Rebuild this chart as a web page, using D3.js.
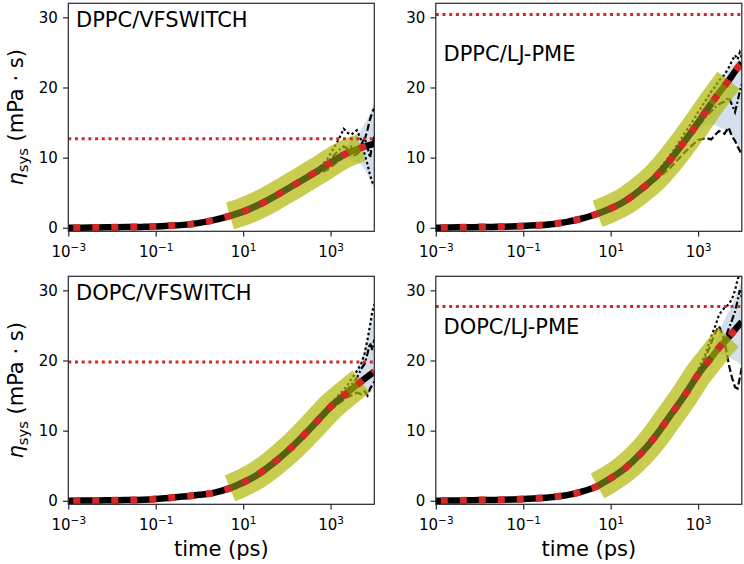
<!DOCTYPE html>
<html>
<head>
<meta charset="utf-8">
<script src="https://d3js.org/d3.v7.min.js"></script>
<style>
  body { margin: 0; background: #fff; }
  svg { display: block; font-family: "DejaVu Sans", sans-serif; }
  .spine { fill: none; stroke: #262626; stroke-width: 1.2; }
  .axis .tick line { stroke: #262626; stroke-width: 1.2; }
  .axis .tick text { fill: #000; font-size: 15px; font-family: "DejaVu Sans", sans-serif; }
  .panel-title, .axis-label { font-size: 21px; fill: #000; }
</style>
</head>
<body>
<svg id="fig" width="744" height="564"></svg>
<script>
// panel names and plateau (red dotted horizontal) values
var panelTitles = ["DPPC/VFSWITCH", "DPPC/LJ-PME", "DOPC/VFSWITCH", "DOPC/LJ-PME"];
var plateaus = [12.7, 30.4, 19.8, 27.7];

// running integral, averaged over replicas (ps -> mPa s)
var times = [0.001, 0.002, 0.005, 0.01, 0.02, 0.05, 0.1, 0.2, 0.5, 1, 2, 5, 10, 20, 50, 100, 200, 500, 1000, 2000, 3000, 5000, 7000, 10000];
var meanDppcVf = [0.0, 0.02, 0.05, 0.07, 0.1, 0.13, 0.18, 0.28, 0.45, 0.7, 1.05, 1.7, 2.3, 3.1, 4.4, 5.5, 6.6, 8.1, 9.3, 10.4, 10.9, 11.4, 11.7, 12.0];
var meanDppcLj = [0.0, 0.05, 0.08, 0.1, 0.13, 0.18, 0.25, 0.35, 0.55, 0.85, 1.25, 2.0, 2.75, 3.7, 5.5, 7.1, 9.2, 12.4, 15.0, 17.7, 19.2, 21.0, 22.3, 23.5];
var meanDopcVf = [0.0, 0.03, 0.05, 0.07, 0.1, 0.15, 0.25, 0.4, 0.65, 0.85, 1.1, 1.8, 2.6, 3.6, 5.4, 7.0, 8.8, 11.4, 13.4, 15.0, 15.9, 17.0, 17.7, 18.4];
var meanDopcLj = [0.0, 0.04, 0.07, 0.1, 0.12, 0.17, 0.25, 0.35, 0.55, 0.8, 1.25, 2.1, 3.2, 4.5, 6.8, 9.0, 11.6, 15.1, 18.0, 20.4, 21.8, 23.3, 24.4, 25.5];

// individual replicas and their spread at long times
var lateTimes = [100, 200, 300, 500, 800, 1000, 1500, 2000, 2500, 3000, 4000, 5000, 6000, 7000, 8000, 9000, 10000];
var repsDppcVf = [
  [5.5, 6.6, 7.3, 8.4, 9.6, 10.6, 12.5, 14.1, 13.5, 13.3, 13.9, 12.5, 10.5, 9.0, 7.5, 6.5, 6.0],
  [5.5, 6.5, 7.0, 7.7, 8.2, 8.6, 9.5, 10.0, 10.8, 10.2, 10.5, 11.0, 12.5, 14.0, 15.5, 16.5, 17.0],
  [5.5, 6.7, 7.4, 8.3, 9.1, 9.8, 11.0, 11.6, 11.2, 11.6, 10.8, 11.8, 12.8, 11.5, 10.0, 12.0, 13.0]
];
var repsDppcLj = [
  [7.5, 9.9, 11.4, 13.6, 15.4, 16.5, 18.2, 19.4, 20.2, 21.0, 21.8, 22.8, 23.8, 24.6, 24.0, 25.0, 24.2],
  [6.6, 8.2, 9.3, 10.8, 12.0, 12.5, 12.8, 12.6, 13.3, 13.8, 13.4, 14.3, 13.0, 12.4, 11.6, 11.0, 10.4],
  [7.0, 9.0, 10.2, 12.0, 13.5, 14.4, 15.8, 16.6, 17.2, 17.6, 18.0, 18.6, 17.5, 16.5, 18.0, 19.5, 20.5]
];
var repsDopcVf = [
  [7.0, 8.9, 9.9, 11.6, 13.1, 13.8, 15.0, 15.8, 16.6, 17.4, 18.5, 19.5, 21.0, 23.0, 25.0, 27.0, 28.0],
  [7.0, 8.7, 9.7, 11.2, 12.5, 13.0, 13.8, 14.4, 14.8, 15.0, 15.4, 15.2, 15.6, 15.0, 16.0, 16.5, 17.0],
  [7.0, 8.8, 9.8, 11.4, 12.8, 13.4, 14.4, 15.2, 16.0, 16.6, 17.5, 18.8, 19.5, 21.0, 22.5, 21.5, 23.0]
];
var repsDopcLj = [
  [9.2, 11.9, 13.5, 15.6, 17.6, 18.7, 21.0, 23.4, 25.0, 26.5, 27.5, 28.0, 28.8, 30.0, 31.5, 32.5, 33.0],
  [9.0, 11.6, 13.0, 15.0, 17.0, 18.2, 20.5, 22.5, 24.0, 24.9, 23.0, 19.5, 17.5, 16.2, 16.0, 17.5, 19.0],
  [9.0, 11.5, 12.8, 14.7, 16.6, 17.6, 19.2, 20.3, 21.0, 21.5, 22.8, 24.5, 25.8, 27.0, 28.5, 30.0, 29.0]
];
var spreadLo = [
  [5.5, 6.6, 7.2, 8.0, 8.7, 9.1, 9.6, 9.9, 9.8, 9.6, 9.3, 9.0, 8.3, 7.6, 6.8, 6.0, 5.5],
  [7.1, 9.1, 10.3, 12.0, 13.3, 14.0, 14.6, 14.8, 14.6, 14.4, 14.0, 13.6, 13.0, 12.4, 11.8, 11.3, 11.0],
  [7.0, 8.8, 9.8, 11.4, 12.8, 13.4, 14.3, 14.8, 15.2, 15.3, 15.4, 15.3, 15.4, 15.2, 15.5, 15.8, 16.0],
  [9.0, 11.6, 13.0, 15.0, 17.0, 18.0, 19.4, 20.2, 20.8, 21.0, 20.8, 20.5, 20.2, 20.0, 19.8, 19.5, 19.3]
];
var spreadHi = [
  [5.5, 6.6, 7.2, 8.2, 9.1, 9.7, 10.6, 11.5, 12.0, 12.4, 13.3, 14.0, 14.8, 15.5, 16.3, 17.2, 18.0],
  [7.1, 9.3, 10.7, 12.8, 14.7, 15.9, 18.3, 19.9, 20.6, 21.2, 22.0, 22.6, 23.2, 23.5, 23.8, 24.0, 24.2],
  [7.0, 8.8, 9.8, 11.4, 12.8, 13.4, 14.5, 15.4, 16.0, 16.8, 18.6, 20.0, 21.5, 23.0, 24.8, 26.0, 27.0],
  [9.0, 11.6, 13.0, 15.0, 17.0, 18.0, 19.6, 21.0, 22.5, 24.0, 25.8, 27.0, 28.0, 29.0, 30.0, 31.0, 31.5]
];

var fitRange = [5, 5000];
var xTicks = [1e-3, 1e-1, 1e1, 1e3];
var yTicks = [0, 10, 20, 30];

(function(root) {
    var svg, x, y, pw, ph, cols, rows;
    var means = [meanDppcVf, meanDppcLj, meanDopcVf, meanDopcLj];
    var reps = [repsDppcVf, repsDppcLj, repsDopcVf, repsDopcLj];
    var repDash = ["2.5,2.5", "7,3", "7,2.5,2,2.5"];

    function draw() {
        svg = d3.select("#fig");
        pw = 306;
        ph = 228;
        cols = [68.3, 435.8];
        rows = [3.3, 276.3];

        x = d3.scaleLog().domain([1e-3, 1e4]).range([0, pw]);
        y = d3.scaleLinear().domain([-0.5, 32]).range([ph, 0]);

        for (var i = 0; i < 4; i++) {
            drawPanel(i);
        }
    }

    function drawPanel(i) {
        var left = cols[i % 2], top = rows[Math.floor(i / 2)];
        var g = svg.append("g").attr("transform", "translate(" + left + "," + top + ")");

        svg.append("clipPath").attr("id", "clip" + i)
            .append("rect").attr("width", pw).attr("height", ph);

        var plot = g.append("g").attr("clip-path", "url(#clip" + i + ")");

        var meanPts = times.map(function(t, k) { return [t, means[i][k]]; });
        var fitPts = meanPts.filter(function(d) { return d[0] >= fitRange[0] && d[0] <= fitRange[1]; });

        var smooth = d3.line()
            .x(function(d) { return x(d[0]); })
            .y(function(d) { return y(d[1]); })
            .curve(d3.curveMonotoneX);
        var jagged = d3.line()
            .x(function(d) { return x(d[0]); })
            .y(function(d) { return y(d[1]); });
        var spread = d3.area()
            .x(function(d) { return x(d[0]); })
            .y0(function(d) { return y(d[1]); })
            .y1(function(d) { return y(d[2]); });

        // replica spread
        plot.append("path")
            .datum(lateTimes.map(function(t, k) { return [t, spreadLo[i][k], spreadHi[i][k]]; }))
            .attr("d", spread)
            .attr("fill", "#b0c4de")
            .attr("opacity", 0.55);

        // single replicas
        reps[i].forEach(function(r, k) {
            plot.append("path")
                .datum(lateTimes.map(function(t, j) { return [t, r[j]]; }))
                .attr("d", jagged)
                .attr("fill", "none")
                .attr("stroke", "#000")
                .attr("stroke-width", 2.2)
                .attr("stroke-dasharray", repDash[k]);
        });

        // average
        plot.append("path")
            .datum(meanPts)
            .attr("d", smooth)
            .attr("fill", "none")
            .attr("stroke", "#000")
            .attr("stroke-width", 6.5);

        // fit window
        plot.append("path")
            .datum(fitPts)
            .attr("d", smooth)
            .attr("fill", "none")
            .attr("stroke", "#b0b805")
            .attr("stroke-opacity", 0.7)
            .attr("stroke-width", 28)
            .attr("stroke-linecap", "butt");

        // average seen through the fit window
        plot.append("path")
            .datum(fitPts.filter(function(d) { return d[0] <= 2000; }))
            .attr("d", smooth)
            .attr("fill", "none")
            .attr("stroke", "#5a5f14")
            .attr("stroke-width", 6.5);

        // fitted curve
        plot.append("path")
            .datum(meanPts)
            .attr("d", smooth)
            .attr("fill", "none")
            .attr("stroke", "#d62728")
            .attr("stroke-width", 7)
            .attr("stroke-dasharray", "7,12")
            .attr("stroke-dashoffset", 14);

        // plateau
        plot.append("line")
            .attr("x1", 0).attr("x2", pw)
            .attr("y1", y(plateaus[i])).attr("y2", y(plateaus[i]))
            .attr("stroke", "#d62728")
            .attr("stroke-width", 3)
            .attr("stroke-dasharray", "3,3.7");

        // axes
        var xAxis = g.append("g").attr("class", "axis")
            .attr("transform", "translate(0," + ph + ")")
            .call(d3.axisBottom(x).tickValues(xTicks).tickSize(5.25).tickPadding(5.25).tickFormat(""));
        xAxis.selectAll(".tick text")
            .attr("y", 25.5)
            .attr("dy", null)
            .each(function(d) {
                var e = Math.round(Math.log10(d));
                var t = d3.select(this);
                t.append("tspan").text("10");
                t.append("tspan").attr("dy", -5.5).attr("font-size", "10.5px")
                    .text(e < 0 ? "\u2212" + (-e) : String(e));
            });

        g.append("g").attr("class", "axis")
            .call(d3.axisLeft(y).tickValues(yTicks).tickSize(5.25).tickPadding(5.25));

        g.selectAll(".axis .domain").remove();
        g.selectAll(".axis").attr("font-family", null).attr("font-size", null);

        g.append("rect").attr("class", "spine").attr("width", pw).attr("height", ph);

        g.append("text").attr("class", "panel-title")
            .attr("x", 7.7)
            .attr("y", i % 2 === 0 ? 23.5 : 58)
            .text(panelTitles[i]);

        if (i % 2 === 0) {
            var yl = svg.append("text").attr("class", "axis-label")
                .attr("text-anchor", "middle")
                .attr("transform", "translate(23," + (top + ph / 2) + ") rotate(-90)");
            yl.append("tspan").attr("font-style", "italic").text("\u03b7");
            yl.append("tspan").attr("font-size", "14.7px").attr("dy", 4.5).text("sys");
            yl.append("tspan").attr("dy", -4.5).text(" (mPa \u00b7 s)");
        }
        if (i >= 2) {
            svg.append("text").attr("class", "axis-label")
                .attr("text-anchor", "middle")
                .attr("x", left + pw / 2)
                .attr("y", 556)
                .text("time (ps)");
        }
    }

    draw();
})(window);
</script>
</body>
</html>
